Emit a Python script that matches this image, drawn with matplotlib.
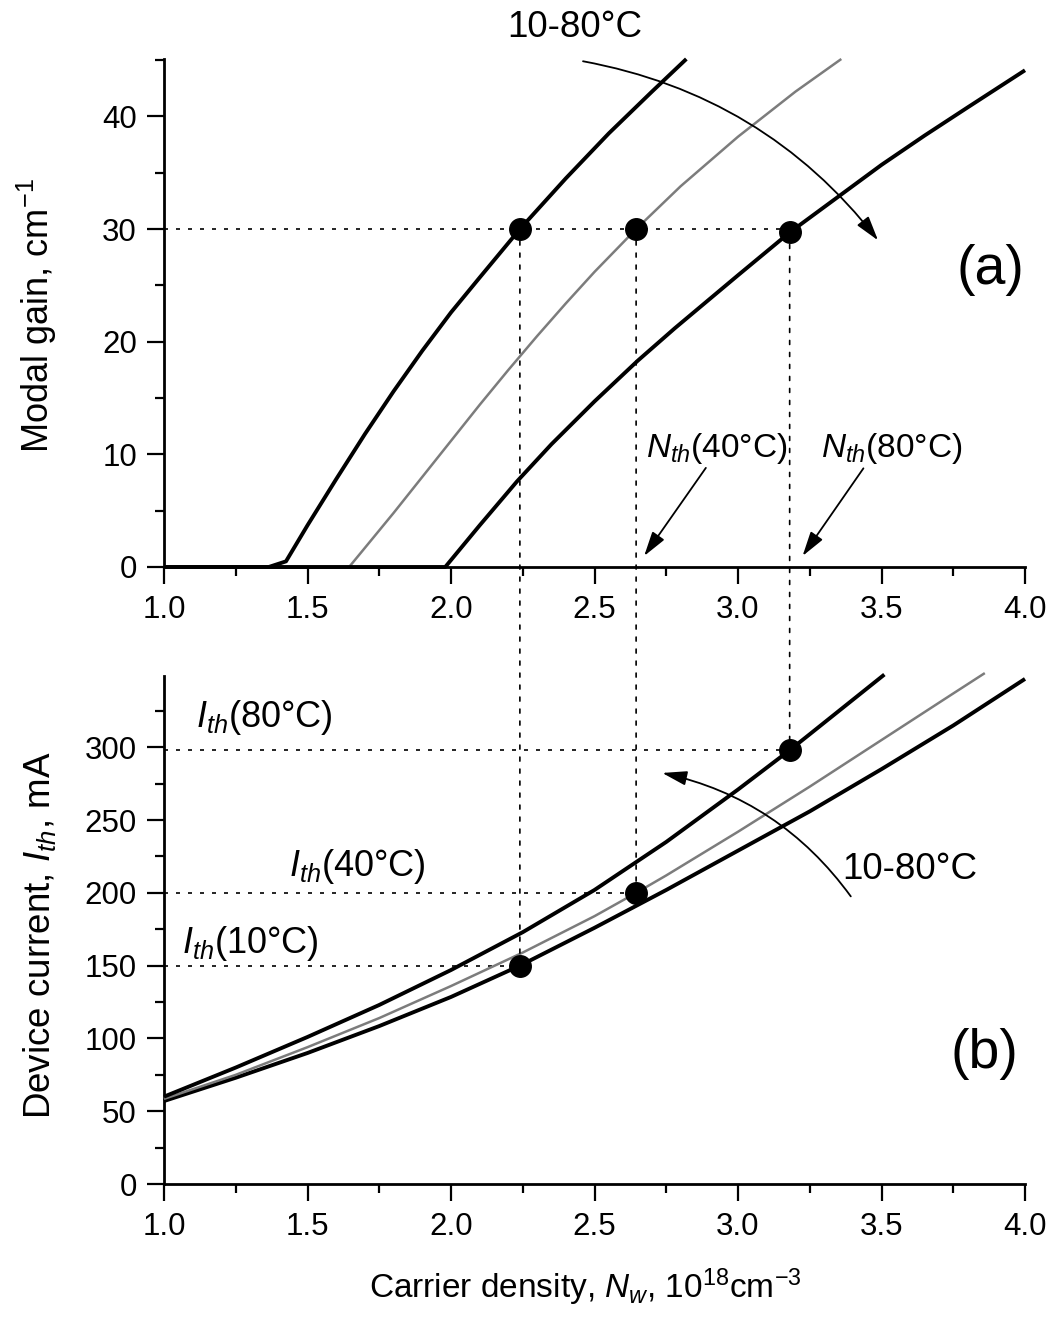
import matplotlib
matplotlib.use("Agg")
import matplotlib.pyplot as plt
from matplotlib.patches import FancyArrowPatch, ConnectionPatch
from matplotlib.ticker import MultipleLocator, FormatStrFormatter

plt.rcParams.update({
    "font.family": ["Liberation Sans", "DejaVu Sans"],
    "mathtext.fontset": "custom",
    "mathtext.rm": "Liberation Sans",
    "mathtext.it": "Liberation Sans:italic",
    "mathtext.bf": "Liberation Sans:bold",
    "mathtext.sf": "Liberation Sans",
})

# ---- (a) modal gain vs carrier density at 10, 40, 80 °C ----
gain_N10 = [1.0, 1.365, 1.425, 1.5, 1.6, 1.7, 1.8, 1.9, 2.0, 2.1, 2.24, 2.4, 2.55, 2.7, 2.82]
gain_10 = [0, 0, 0.5, 3.7, 7.8, 11.8, 15.6, 19.2, 22.6, 25.7, 30.0, 34.5, 38.5, 42.2, 45.1]

gain_N40 = [1.0, 1.645, 1.7, 1.8, 1.9, 2.0, 2.1, 2.2, 2.3, 2.4, 2.5, 2.645, 2.8, 3.0, 3.2, 3.36]
gain_40 = [0, 0, 1.7, 4.8, 8.0, 11.2, 14.4, 17.5, 20.5, 23.4, 26.2, 30.0, 33.8, 38.2, 42.2, 45.1]

gain_N80 = [1.0, 1.98, 2.1, 2.23, 2.35, 2.5, 2.65, 2.78, 3.0, 3.18, 3.34, 3.5, 3.65, 3.8, 4.0]
gain_80 = [0, 0, 3.7, 7.6, 10.9, 14.7, 18.3, 21.2, 25.9, 29.7, 32.7, 35.7, 38.3, 40.8, 44.1]

# ---- (b) device current vs carrier density ----
cur_N10 = [1.0, 1.25, 1.5, 1.75, 2.0, 2.24, 2.5, 2.75, 3.0, 3.25, 3.5, 3.75, 4.0]
cur_10 = [57, 73, 90, 108.5, 128.5, 150, 176, 202, 229, 256, 285, 315, 347]

cur_N40 = [1.0, 1.25, 1.5, 1.75, 2.0, 2.25, 2.5, 2.645, 2.75, 3.0, 3.25, 3.5, 3.75, 3.86]
cur_40 = [58.5, 75, 94, 114, 136, 159, 184, 200, 212, 242, 273, 305, 337, 351]

cur_N80 = [1.0, 1.25, 1.5, 1.75, 2.0, 2.25, 2.5, 2.75, 3.0, 3.18, 3.25, 3.51]
cur_80 = [60, 80, 101, 123, 147, 173, 202, 235, 271, 298, 309, 350]

# threshold points (10, 40, 80 °C)
N_th = [2.24, 2.645, 3.18]
gain_th = [30.0, 30.0, 29.7]
I_th = [150, 200, 298]
gain_level = 30.0

x_ticks = [1.0, 1.5, 2.0, 2.5, 3.0, 3.5, 4.0]

fig = plt.figure(figsize=(10.5, 13.2), dpi=100)
W, H = 1050.0, 1320.0
ax1 = fig.add_axes([164 / W, 1 - 567 / H, 861 / W, 508 / H])
ax2 = fig.add_axes([164 / W, 1 - 1184 / H, 861 / W, 508 / H])


def style(ax, ymax, ymajor, yminor):
    for s in ("top", "right"):
        ax.spines[s].set_visible(False)
    for s in ("left", "bottom"):
        ax.spines[s].set_linewidth(2.0)
    ax.set_xlim(1.0, 4.0)
    ax.set_ylim(0, ymax)
    ax.set_xticks(x_ticks)
    ax.xaxis.set_minor_locator(MultipleLocator(0.25))
    ax.xaxis.set_major_formatter(FormatStrFormatter("%.1f"))
    ax.yaxis.set_major_locator(MultipleLocator(ymajor))
    ax.yaxis.set_minor_locator(MultipleLocator(yminor))
    ax.tick_params(which="major", direction="out", length=12.5, width=1.6,
                   labelsize=22.5, pad=7)
    ax.tick_params(which="minor", direction="out", length=6.5, width=1.6)
    ax.tick_params(axis="x", which="major", pad=8)


style(ax1, 45.1, 10, 5)
style(ax2, 349, 50, 25)

thick = dict(color="black", lw=2.8, clip_on=False, zorder=3,
             solid_capstyle="butt", solid_joinstyle="round")
thin = dict(color="#7c7c7c", lw=1.8, clip_on=False, zorder=3,
            solid_capstyle="butt", solid_joinstyle="round")
dots = dict(marker="o", ms=15.5, color="black", ls="none", zorder=5, clip_on=False)
dotted = dict(color="black", lw=1.2, ls=(0, (2.4, 4.8)), zorder=2)

# panel (a)
ax1.plot(gain_N10, gain_10, **thick)
ax1.plot(gain_N40, gain_40, **thin)
ax1.plot(gain_N80, gain_80, **thick)
ax1.plot([1.0, N_th[-1]], [gain_level, gain_level], **dotted)
ax1.plot(N_th, gain_th, **dots)

# panel (b)
ax2.plot(cur_N10, cur_10, **thick)
ax2.plot(cur_N40, cur_40, **thin)
ax2.plot(cur_N80, cur_80, **thick)
for n, i in zip(N_th, I_th):
    ax2.plot([1.0, n], [i, i], **dotted)
ax2.plot(N_th, I_th, **dots)

# vertical projections from threshold gain to threshold current
for n, g, i in zip(N_th, gain_th, I_th):
    con = ConnectionPatch(xyA=(n, g), coordsA=ax1.transData,
                          xyB=(n, i), coordsB=ax2.transData,
                          color="black", lw=1.2, ls=(0, (2.4, 4.8)), zorder=2)
    fig.add_artist(con)

arrow_style = "-|>,head_length=0.75,head_width=0.22"


def arrow(ax, start, end, rad=0.0):
    p = FancyArrowPatch(start, end, arrowstyle=arrow_style, mutation_scale=20,
                        connectionstyle=f"arc3,rad={rad}", lw=1.3, color="black",
                        shrinkA=0, shrinkB=0, clip_on=False, zorder=4)
    ax.add_patch(p)


# temperature arrows
ax1.text(2.432, 47.9, "10-80°C", fontsize=26.5, ha="center", va="center")
arrow(ax1, (2.46, 44.9), (3.488, 29.0), rad=-0.19)
ax2.text(3.60, 216, "10-80°C", fontsize=26.5, ha="center", va="center")
arrow(ax2, (3.393, 197.6), (2.736, 282.4), rad=0.19)

# threshold-density labels
ax1.text(2.679, 9.8, r"$N_{th}$(40°C)", fontsize=24, ha="left", va="baseline")
ax1.text(3.289, 9.8, r"$N_{th}$(80°C)", fontsize=24, ha="left", va="baseline")
arrow(ax1, (2.888, 8.8), (2.673, 0.98))
arrow(ax1, (3.437, 8.76), (3.225, 0.98))

# threshold-current labels
ax2.text(1.111, 314.3, r"$I_{th}$(80°C)", fontsize=26, ha="left", va="baseline")
ax2.text(1.436, 211.3, r"$I_{th}$(40°C)", fontsize=26, ha="left", va="baseline")
ax2.text(1.064, 158.7, r"$I_{th}$(10°C)", fontsize=26, ha="left", va="baseline")

# panel tags
ax1.text(3.881, 26.4, "(a)", fontsize=40, ha="center", va="center")
ax2.text(3.857, 89.4, "(b)", fontsize=40, ha="center", va="center")

# axis titles
fig.text(49 / W, 1 - 316 / H, r"Modal gain, cm$^{-1}$", fontsize=26, rotation=90,
         rotation_mode="anchor", ha="center", va="baseline")
fig.text(50 / W, 1 - 935 / H, r"Device current, $I_{th}$, mA", fontsize=26.5, rotation=90,
         rotation_mode="anchor", ha="center", va="baseline")
fig.text(585 / W, 1 - 1298 / H, r"Carrier density, $N_w$, 10$^{18}$cm$^{-3}$",
         fontsize=24, ha="center", va="baseline")

fig.savefig("out.png", dpi=100)
